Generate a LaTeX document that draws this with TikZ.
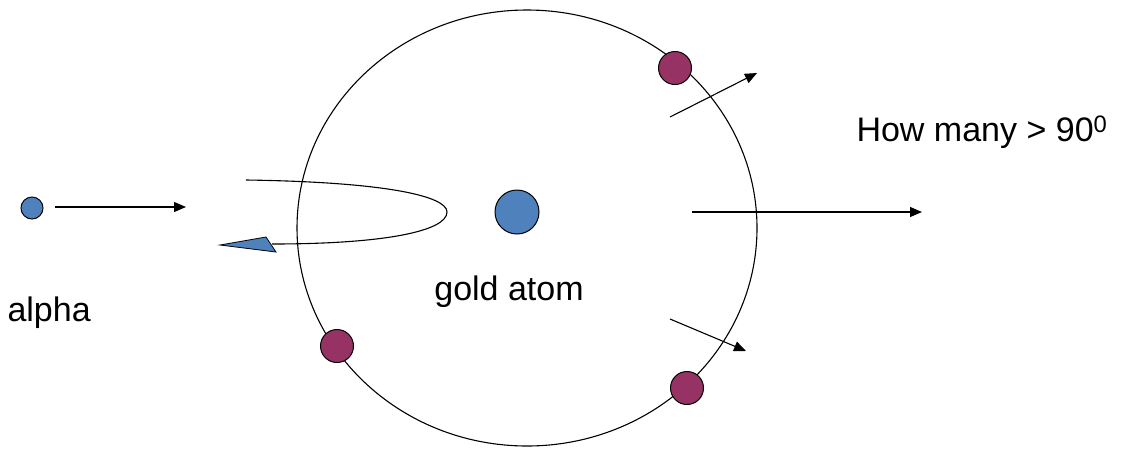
\documentclass[tikz,border=0pt]{standalone}
\usepackage{fontspec}
\setmainfont{Liberation Sans}
\usetikzlibrary{arrows.meta}
\definecolor{partblue}{RGB}{79,129,189}
\definecolor{elecred}{RGB}{150,50,100}
\tikzset{
  ray/.style={line width=1.1pt, -{Triangle[length=12pt,width=10pt]}},
  elec/.style={circle, draw, line width=1pt, fill=elecred, minimum size=33pt, inner sep=0pt},
  lbl/.style={font=\fontsize{34}{40}\selectfont}
}
\begin{document}
\begin{tikzpicture}[x=1pt,y=-1pt]
                \useasboundingbox (0,0) rectangle (1121,448);
                \draw[line width=1.1pt] (527,228) ellipse [x radius=230, y radius=218];

                \node[circle, draw, line width=1pt, fill=partblue, minimum size=22pt, inner sep=0pt] (alpha) at (32,208) {};
                \node[circle, draw, line width=1pt, fill=partblue, minimum size=44pt, inner sep=0pt] (nucleus) at (517,212) {};
                \node[elec] (etop) at (675,68) {};
                \node[elec] (eleft) at (337,346) {};
                \node[elec] (ebot) at (687,388) {};

                \coordinate (a1) at (55,207);
                \coordinate (a2) at (186,207);
                \coordinate (u1) at (670,117);
                \coordinate (u2) at (757,73);
                \coordinate (m1) at (692,212);
                \coordinate (m2) at (922,212);
                \coordinate (d1) at (670,319);
                \coordinate (d2) at (746,351);
                \coordinate (bstart) at (246,180);
                \coordinate (btip) at (447,212);
                \coordinate (bend) at (272,244);

                \draw[ray] (a1) -- (a2);
                \draw[ray] (u1) -- (u2);
                \draw[ray] (m1) -- (m2);
                \draw[ray] (d1) -- (d2);

                \draw[line width=1.1pt] (bstart) .. controls (385,182) and (447,196) .. (btip)
                    .. controls (447,231) and (385,244) .. (bend);
                \draw[line width=0.8pt, fill=partblue] (220,245) -- (266,237) -- (276,252) -- cycle;

                \node[lbl, anchor=west] (alphatext) at (4,313) {alpha};
                \node[lbl] (goldtext) at (509,292) {gold atom};
                \node[lbl, anchor=west] (howtext) at (853,132) {How many > 90\textsuperscript{0}};
            \end{tikzpicture}
\end{document}
